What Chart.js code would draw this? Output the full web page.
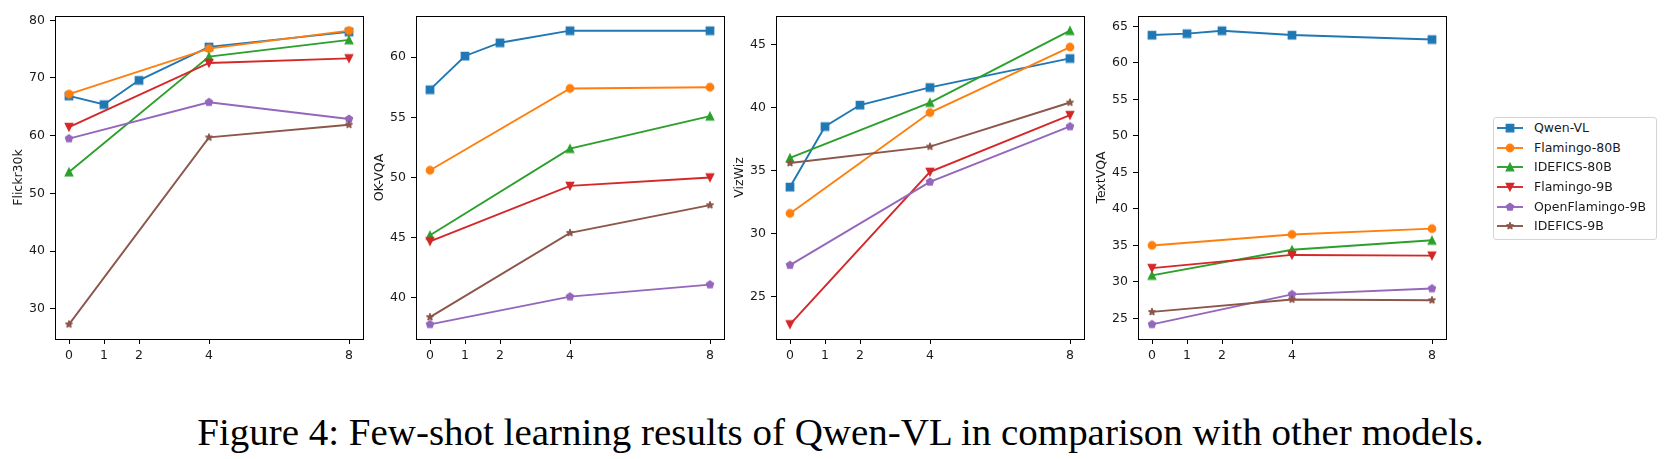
<!DOCTYPE html>
<html>
<head>
<meta charset="utf-8">
<script src="https://cdn.jsdelivr.net/npm/chart.js@4.4.1/dist/chart.umd.min.js"></script>
<style>
  html, body { margin: 0; padding: 0; background: #fff; }
  body { width: 1669px; height: 459px; position: relative; overflow: hidden; font-family: 'DejaVu Sans', sans-serif; }
  canvas.panel { position: absolute; top: 0; }
  #legend { position: absolute; left: 1493px; top: 117px; width: 162px; height: 121px;
            border: 1px solid #d5d5d5; border-radius: 3px; background: #fff; }
  .row { position: absolute; left: 0; width: 160px; height: 20px; }
  .row canvas { position: absolute; left: 0; top: 0; }
  .row span { position: absolute; left: 40px; top: 0; line-height: 20px; font-size: 12.5px; color: #1a1a1a; white-space: nowrap; }
  #caption { position: absolute; white-space: nowrap; font-family: 'Liberation Serif', serif; line-height: 1; color: #000; }
</style>
</head>
<body>
<canvas class="panel" id="p0"></canvas>
<canvas class="panel" id="p1"></canvas>
<canvas class="panel" id="p2"></canvas>
<canvas class="panel" id="p3"></canvas>
<div id="legend"></div>
<div id="caption">Figure 4: Few-shot learning results of Qwen-VL in comparison with other models.</div>
<script>
// Models, colours and markers (matplotlib tab10 order)
const models = ['Qwen-VL', 'Flamingo-80B', 'IDEFICS-80B', 'Flamingo-9B', 'OpenFlamingo-9B', 'IDEFICS-9B'];
const colors = ['#1f77b4', '#ff7f0e', '#2ca02c', '#d62728', '#9467bd', '#8c564b'];
const markers = ['square', 'circle', 'triangle', 'triangleDown', 'pentagon', 'star'];

// Shots: Qwen-VL has 0/1/2/4/8, the others 0/4/8
const qwenShots = [0, 1, 2, 4, 8];
const otherShots = [0, 4, 8];
const shotTicks = [0, 1, 2, 4, 8];

// Scores per benchmark, one row per model
const flickr30k = [
    [66.9, 65.4, 69.6, 75.4, 78.0],
    [67.2, 75.1, 78.2],
    [53.7, 73.7, 76.6],
    [61.5, 72.6, 73.4],
    [59.5, 65.8, 62.9],
    [27.3, 59.7, 61.9]
];
const okvqa = [
    [57.3, 60.1, 61.2, 62.2, 62.2],
    [50.6, 57.4, 57.5],
    [45.2, 52.4, 55.1],
    [44.7, 49.3, 50.0],
    [37.8, 40.1, 41.1],
    [38.4, 45.4, 47.7]
];
const vizwiz = [
    [33.7, 38.5, 40.2, 41.6, 43.9],
    [31.6, 39.6, 44.8],
    [36.0, 40.4, 46.1],
    [22.8, 34.9, 39.4],
    [27.5, 34.1, 38.5],
    [35.6, 36.9, 40.4]
];
const textvqa = [
    [63.8, 64.0, 64.4, 63.8, 63.2],
    [35.0, 36.5, 37.3],
    [30.9, 34.4, 35.7],
    [31.9, 33.7, 33.6],
    [24.2, 28.3, 29.1],
    [25.9, 27.6, 27.5]
];

// Y tick labels
const flickrTicks = [30, 40, 50, 60, 70, 80];
const okvqaTicks = [40, 45, 50, 55, 60];
const vizwizTicks = [25, 30, 35, 40, 45];
const textvqaTicks = [25, 30, 35, 40, 45, 50, 55, 60, 65];

const panels = [
    { id: 'p0', title: 'Flickr30k', series: flickr30k, ticks: flickrTicks, left: 55 },
    { id: 'p1', title: 'OK-VQA', series: okvqa, ticks: okvqaTicks, left: 416 },
    { id: 'p2', title: 'VizWiz', series: vizwiz, ticks: vizwizTicks, left: 776 },
    { id: 'p3', title: 'TextVQA', series: textvqa, ticks: textvqaTicks, left: 1138 }
];

const AREA_W = 308, AREA_TOP = 16, AREA_BOTTOM = 339;
const YAXIS_W = 50, RIGHT_PAD = 8, CANVAS_H = 375;
const TEXT = '#1a1a1a';

Chart.defaults.font.family = 'DejaVu Sans';
Chart.defaults.font.size = 12.5;
Chart.defaults.color = TEXT;

// matplotlib-like marker drawn once into a small canvas
function makeMarker(shape, color) {
    const ms = 7.5, lw = 1.25, size = 14;
    const c = document.createElement('canvas');
    c.width = size; c.height = size;
    const g = c.getContext('2d');
    const cx = size / 2, cy = size / 2, r = ms / 2;
    g.fillStyle = color;
    g.strokeStyle = color;
    g.lineWidth = lw;
    g.lineJoin = shape === 'star' ? 'bevel' : 'miter';
    g.beginPath();
    if (shape === 'square') {
        g.rect(cx - r, cy - r, ms, ms);
    } else if (shape === 'circle') {
        g.arc(cx, cy, r, 0, Math.PI * 2);
    } else if (shape === 'triangle') {
        g.moveTo(cx, cy - r); g.lineTo(cx + r, cy + r); g.lineTo(cx - r, cy + r); g.closePath();
    } else if (shape === 'triangleDown') {
        g.moveTo(cx, cy + r); g.lineTo(cx + r, cy - r); g.lineTo(cx - r, cy - r); g.closePath();
    } else {
        const n = shape === 'star' ? 10 : 5;
        for (let k = 0; k < n; k++) {
            const a = -Math.PI / 2 + k * 2 * Math.PI / n;
            const rr = (shape === 'star' && k % 2) ? r * 0.381966 : r;
            const px = cx + rr * Math.cos(a), py = cy + rr * Math.sin(a);
            if (k === 0) g.moveTo(px, py); else g.lineTo(px, py);
        }
        g.closePath();
    }
    g.fill();
    g.stroke();
    return c;
}

const markerImgs = markers.map((m, i) => makeMarker(m, colors[i]));

// 5% autoscale margin like matplotlib
const paddedRange = (values) => {
    const lo = Math.min(...values), hi = Math.max(...values);
    const m = (hi - lo) * 0.05;
    return [lo - m, hi + m];
};

// box around the plot area
const framePlugin = {
    id: 'frame',
    afterDraw(chart) {
        const { left, top, right, bottom } = chart.chartArea;
        const g = chart.ctx;
        g.save();
        g.strokeStyle = '#000';
        g.lineWidth = 1;
        g.strokeRect(Math.round(left) + 0.5, Math.round(top) + 0.5, Math.round(right - left), Math.round(bottom - top));
        g.restore();
    }
};

const [xMin, xMax] = paddedRange(qwenShots);

panels.forEach(panel => {
    const canvas = document.getElementById(panel.id);
    canvas.width = YAXIS_W + AREA_W + RIGHT_PAD;
    canvas.height = CANVAS_H;
    canvas.style.left = (panel.left - YAXIS_W) + 'px';

    const [yMin, yMax] = paddedRange(panel.series.flat());

    const datasets = panel.series.map((vals, i) => {
        const xs = i === 0 ? qwenShots : otherShots;
        return {
            label: models[i],
            data: xs.map((x, j) => ({ x: x, y: vals[j] })),
            borderColor: colors[i],
            backgroundColor: colors[i],
            borderWidth: 1.9,
            pointStyle: markerImgs[i],
            pointRadius: 4,
            pointHoverRadius: 4,
            tension: 0,
            fill: false,
            order: models.length - i
        };
    });

    new Chart(canvas, {
        type: 'line',
        data: { datasets },
        options: {
            responsive: false,
            animation: false,
            events: [],
            layout: { padding: { top: AREA_TOP, right: RIGHT_PAD, left: 0, bottom: 0 } },
            plugins: { legend: { display: false }, tooltip: { enabled: false } },
            scales: {
                x: {
                    type: 'linear',
                    min: xMin,
                    max: xMax,
                    afterBuildTicks: (scale) => { scale.ticks = shotTicks.map(v => ({ value: v })); },
                    afterFit: (scale) => { scale.height = CANVAS_H - AREA_BOTTOM; },
                    grid: { drawOnChartArea: false, drawTicks: true, tickLength: 5, color: '#000', lineWidth: 1 },
                    border: { display: false },
                    ticks: { padding: 4, maxRotation: 0, autoSkip: false, color: TEXT }
                },
                y: {
                    type: 'linear',
                    min: yMin,
                    max: yMax,
                    afterBuildTicks: (scale) => { scale.ticks = panel.ticks.map(v => ({ value: v })); },
                    afterFit: (scale) => { scale.width = YAXIS_W; },
                    grid: { drawOnChartArea: false, drawTicks: true, tickLength: 5, color: '#000', lineWidth: 1 },
                    border: { display: false },
                    ticks: { padding: 5, color: TEXT },
                    title: { display: true, text: panel.title, color: TEXT, font: { size: 12.5 }, padding: { top: 6.5, bottom: 0 } }
                }
            }
        },
        plugins: [framePlugin]
    });
});

// Legend box to the right of the panels
const legend = document.getElementById('legend');
models.forEach((name, i) => {
    const row = document.createElement('div');
    row.className = 'row';
    row.style.top = (0.3 + i * 19.55) + 'px';
    const h = document.createElement('canvas');
    h.width = 34; h.height = 20;
    const g = h.getContext('2d');
    g.strokeStyle = colors[i];
    g.lineWidth = 1.9;
    g.beginPath();
    g.moveTo(3, 10);
    g.lineTo(29, 10);
    g.stroke();
    const img = markerImgs[i];
    g.drawImage(img, 16 - img.width / 2, 10 - img.height / 2);
    const label = document.createElement('span');
    label.textContent = name;
    row.appendChild(h);
    row.appendChild(label);
    legend.appendChild(row);
});

// Caption: fit to the reference width
const caption = document.getElementById('caption');
let fs = 38;
caption.style.fontSize = fs + 'px';
fs = fs * 1287 / caption.getBoundingClientRect().width;
caption.style.fontSize = fs + 'px';
caption.style.left = (840.5 - caption.getBoundingClientRect().width / 2) + 'px';
caption.style.top = (445 - 0.8375 * fs) + 'px';
</script>
</body>
</html>
